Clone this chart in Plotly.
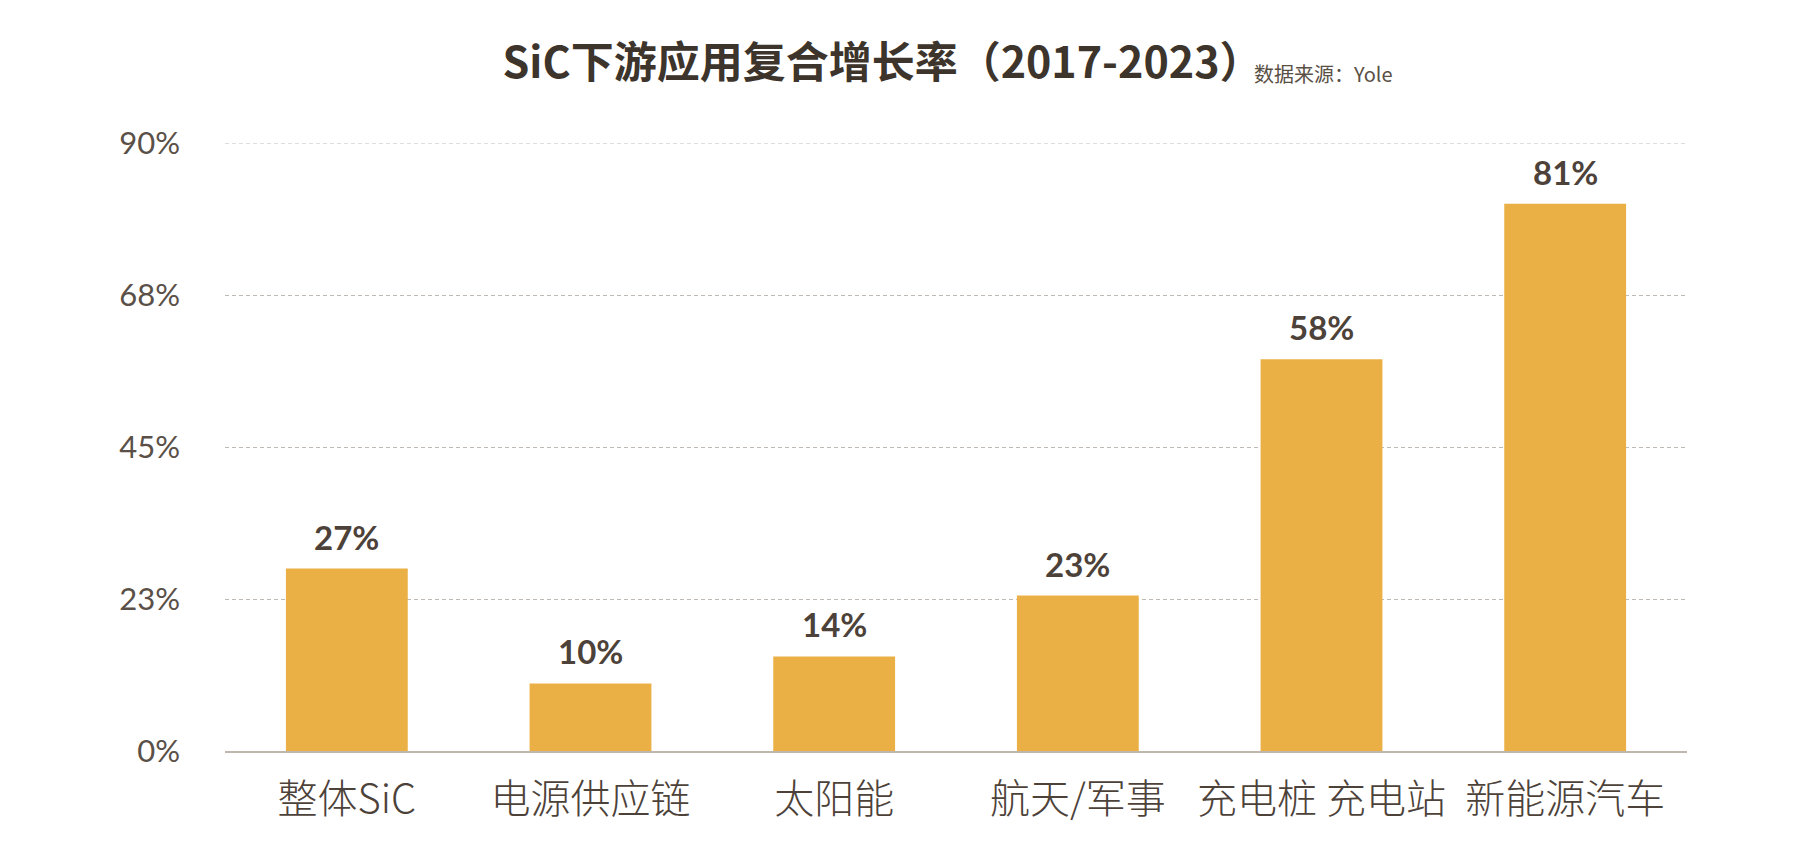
import plotly.graph_objects as go

categories = ["整体SiC", "电源供应链", "太阳能", "航天/军事", "充电桩 充电站", "新能源汽车"]
values = [27, 10, 14, 23, 58, 81]
value_labels = ["27%", "10%", "14%", "23%", "58%", "81%"]
y_tickvals = [0, 22.5, 45, 67.5, 90]
y_ticktext = ["0%", "23%", "45%", "68%", "90%"]
title_text = "SiC下游应用复合增长率（2017-2023）"
source_text = "数据来源：Yole"

BAR = "#ebb045"
TXT = "#4d4239"
GRID = "#bfbbb4"
CJK = "Noto Sans CJK SC, Lato, sans-serif"

W, H = 1802, 848

fig = go.Figure()
fig.add_trace(go.Bar(x=categories, y=values, marker=dict(color=BAR, line=dict(width=0)),
                     hoverinfo="skip"))

for c, v, t in zip(categories, values, value_labels):
    fig.add_annotation(x=c, y=v, text=t, showarrow=False, xref="x", yref="y",
                       yanchor="bottom", yshift=10,
                       font=dict(family="Lato, " + CJK, size=33, color=TXT, weight="bold"))

fig.add_annotation(text=source_text, showarrow=False, xref="paper", yref="paper",
                   x=0.7025, xanchor="left", y=1.1135, yanchor="middle",
                   font=dict(family=CJK, size=20, color="#5a4f45"))

# top gridline (sits on the plot edge, so draw it explicitly)
fig.add_shape(type="line", xref="paper", yref="y", x0=0, x1=1,
              y0=y_tickvals[-1], y1=y_tickvals[-1],
              line=dict(color=GRID, width=1.2, dash="4px,3px"), layer="below")

fig.update_layout(
    width=W, height=H,
    margin=dict(l=217, r=123, t=135, b=105),
    paper_bgcolor="white", plot_bgcolor="white",
    bargap=0.5,
    showlegend=False,
    title=dict(
        text=title_text,
        x=0.4853, xanchor="center", xref="container",
        y=1 - 55 / H, yanchor="middle", yref="container",
        font=dict(family=CJK, size=43, color="#3d342b", weight="bold"),
    ),
    xaxis=dict(
        showgrid=False, showline=True, linecolor="#bdb7ae", linewidth=2,
        ticks="", tickfont=dict(family=CJK, size=40, color=TXT, weight=300),
        ticklabelstandoff=12,
    ),
    yaxis=dict(
        range=[0, 90], tickvals=y_tickvals, ticktext=y_ticktext,
        showgrid=True, gridcolor=GRID, griddash="4px,3px", gridwidth=1.2,
        zeroline=False, showline=False, ticks="",
        tickfont=dict(family="Lato, sans-serif", size=31, color="#5a5048", weight=400),
        ticklabelstandoff=44,
    ),
)

fig.write_html("out.html")
